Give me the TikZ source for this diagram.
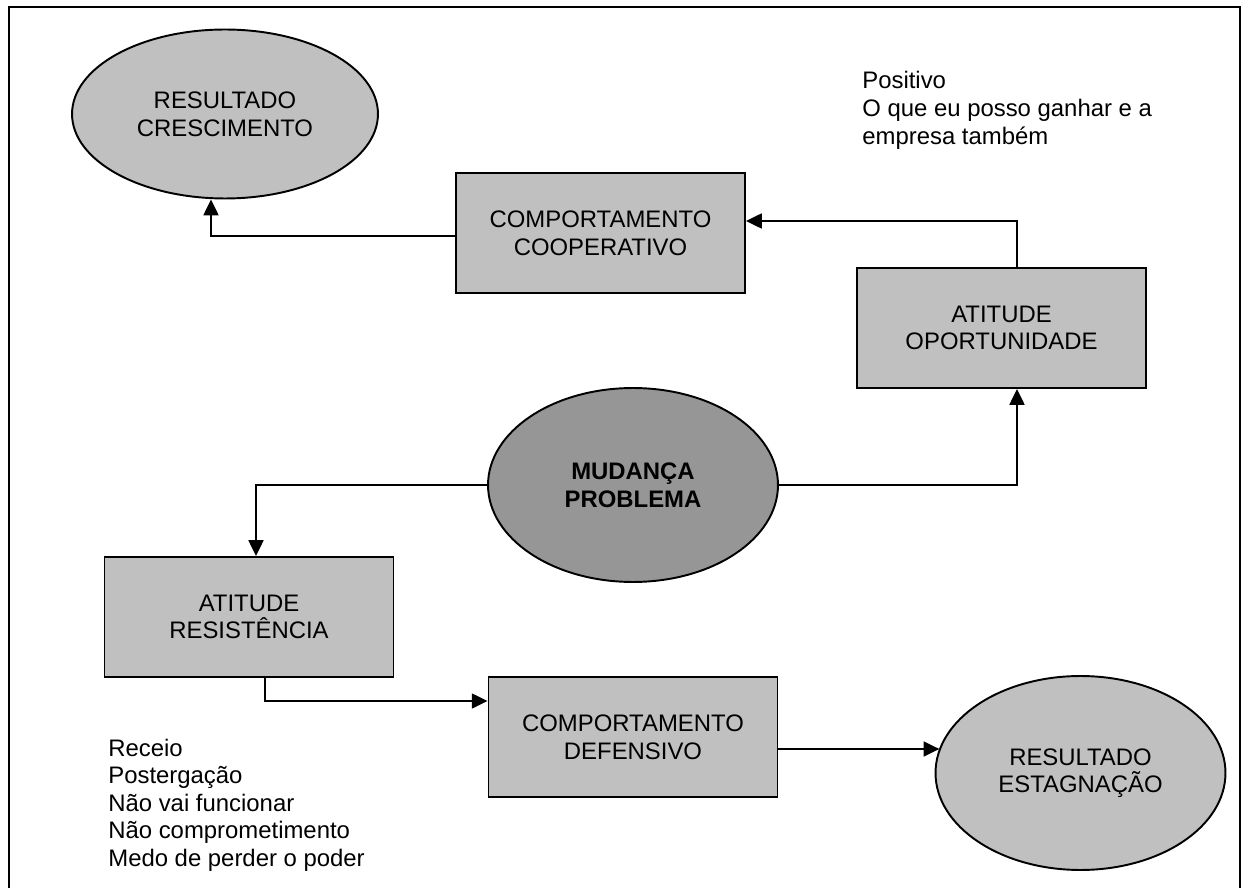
\documentclass[tikz,border=0pt]{standalone}
\usepackage{fontspec}
\setmainfont{Liberation Sans}
\usetikzlibrary{arrows.meta,shapes.geometric}

\definecolor{boxgray}{HTML}{C0C0C0}
\definecolor{coregray}{HTML}{969696}

\tikzset{
  every node/.style={font=\fontsize{13.6}{15.7}\selectfont, align=center},
  stage/.style={draw=black, line width=1.1pt, fill=boxgray, rectangle,
    minimum width=5.78cm, minimum height=2.4cm, inner sep=0pt},
  outcome/.style={draw=black, line width=1.1pt, fill=boxgray, ellipse,
    minimum width=5.8cm, minimum height=3.88cm, inner sep=0pt},
  core/.style={outcome, fill=coregray, font=\fontsize{13.6}{15.7}\selectfont\bfseries},
  note/.style={inner sep=0pt, anchor=base west},
  link/.style={draw=black, line width=1.1pt, -{Triangle[length=9pt,width=8.5pt]}},
}

\begin{document}
\begin{tikzpicture}[x=0.02cm, y=-0.02cm]
  \useasboundingbox (0,0) rectangle (1248,888);

  % open frame (bottom edge lies below the page)
  \draw[line width=1.2pt] (9,900) -- (9,7) -- (1240,7) -- (1240,900);

  % shapes
  \node[outcome, minimum width=6.12cm, minimum height=3.38cm] (cresc) at (225,114) {RESULTADO\\CRESCIMENTO};
  \node[stage] (coop) at (600.5,233) {COMPORTAMENTO\\COOPERATIVO};
  \node[stage] (oport) at (1001.5,328) {ATITUDE\\OPORTUNIDADE};
  \node[core] (mud) at (633,485) {MUDANÇA\\PROBLEMA};
  \node[stage] (resist) at (249,617) {ATITUDE\\RESISTÊNCIA};
  \node[stage] (defens) at (633,737) {COMPORTAMENTO\\DEFENSIVO};
  \node[outcome] (estag) at (1080.5,773) {RESULTADO\\ESTAGNAÇÃO};

  % notes (first baseline sits on the given point)
  \node[note] (pos) at (862,89) {\begin{tabular}[t]{@{}l@{}}Positivo\\O que eu posso ganhar e a\\empresa também\end{tabular}};
  \node[note] (neg) at (108,756) {\begin{tabular}[t]{@{}l@{}}Receio\\Postergação\\Não vai funcionar\\Não comprometimento\\Medo de perder o poder\end{tabular}};

  % connectors
  \draw[link] ([yshift=-0.06cm]coop.west) -| ([xshift=-0.28cm]cresc.south);
  \draw[link] ([xshift=0.31cm]oport.north) |- ([yshift=0.24cm]coop.east);
  \draw[link] (mud.east) -| ([xshift=0.31cm]oport.south);
  \draw[link] (mud.west) -| ([xshift=0.14cm]resist.north);
  \draw[link] ([xshift=0.32cm]resist.south) |- ([yshift=0.72cm]defens.west);
  \coordinate (dout) at ([yshift=-0.24cm]defens.east);
  \draw[link] (dout) -- (dout -| estag.170);
\end{tikzpicture}
\end{document}
